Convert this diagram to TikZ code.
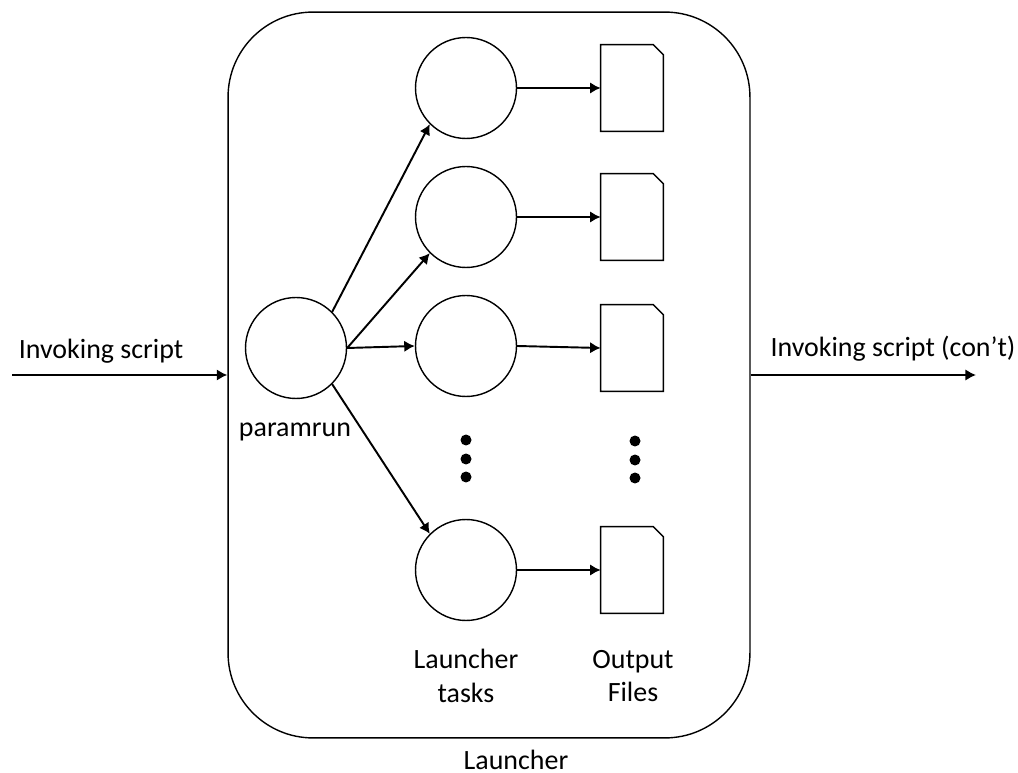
\documentclass[tikz,border=0pt]{standalone}
\usepackage{fontspec}
\setmainfont{Carlito}
\usetikzlibrary{arrows.meta}

\tikzset{
	task/.style={draw, circle, line width=0.8pt, minimum size=2.02cm, inner sep=0pt},
	filebox/.style={minimum width=1.24cm, minimum height=1.72cm, inner sep=0pt},
	lbl/.style={font=\fontsize{15.9}{19}\selectfont, align=center, inner sep=0pt},
	conn/.style={line width=1.1pt, -{Latex[length=6pt,width=6.5pt]}},
	vdot/.style={circle, fill=black, minimum size=0.22cm, inner sep=0pt},
}
\newcommand{\outfile}[3]{
	\node[filebox](#1) at (#2,#3) {};
	\draw[line width=0.8pt] (#1.south west) -- (#1.north west) -- ([xshift=-0.2cm]#1.north east) -- ([yshift=-0.2cm]#1.north east) -- (#1.south east) -- cycle;
}

\begin{document}
\begin{tikzpicture}[x=0.02cm,y=-0.02cm]
	\useasboundingbox (0,0) rectangle (1018,773);

	\node[draw, line width=0.8pt, rounded corners=1.7cm, minimum width=10.44cm, minimum height=14.52cm, inner sep=0pt](launcher) at (489,375) {};

	\node[task](param) at (296,348) {};
	\node[task](t1) at (466,88) {};
	\node[task](t2) at (466,217) {};
	\node[task](t3) at (466,346) {};
	\node[task](t4) at (466,570) {};

	\outfile{f1}{632}{88}
	\outfile{f2}{632}{217}
	\outfile{f3}{632}{348}
	\outfile{f4}{632}{570}

	\coordinate (inL) at (12,375);
	\coordinate (outR) at (976,375);
	\draw[conn] (inL) -- (launcher.west);
	\draw[conn] (launcher.east) -- (outR);

	\draw[conn] (param.45) -- (t1.225);
	\draw[conn] (param.east) -- (t2.225);
	\draw[conn] (param.east) -- (t3.west);
	\draw[conn] (param.-45) -- (t4.135);

	\draw[conn] (t1.east) -- (f1.west);
	\draw[conn] (t2.east) -- (f2.west);
	\draw[conn] (t3.east) -- (f3.west);
	\draw[conn] (t4.east) -- (f4.west);

	\foreach \i/\y in {1/440,2/459,3/477} {
		\node[vdot](da\i) at (466,\y) {};
		\node[vdot](db\i) at (635,\y+1) {};
	}

	\node[lbl](invoke) at (101,351) {Invoking script};
	\node[lbl](cont) at (893,349) {Invoking script (con’t)};
	\node[lbl](paramlbl) at (295,432) {paramrun};
	\node[lbl](tasklbl) at (466,676) {Launcher\\tasks};
	\node[lbl](filelbl) at (633,676) {Output\\Files};
	\node[lbl](launchlbl) at (516,760) {Launcher};
\end{tikzpicture}
\end{document}
